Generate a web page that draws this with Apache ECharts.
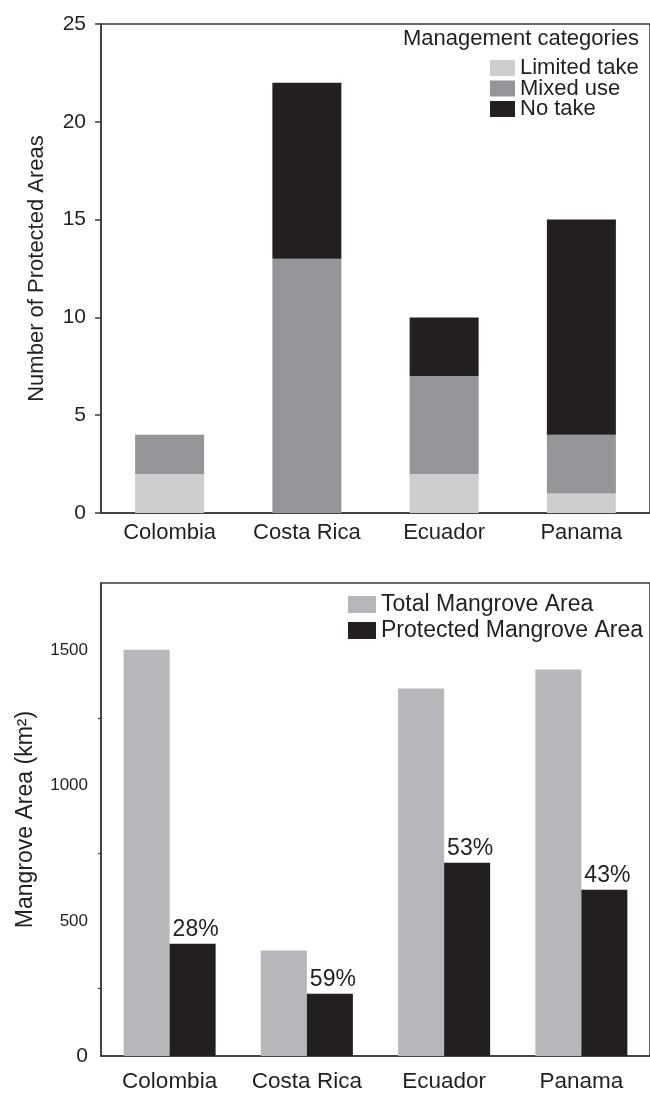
<!DOCTYPE html>
<html>
<head>
<meta charset="utf-8">
<script src="https://cdn.jsdelivr.net/npm/echarts@6/dist/echarts.min.js"></script>
<style>
  html, body { margin: 0; padding: 0; background: #fff; }
  #chart { width: 650px; height: 1093px; }
</style>
</head>
<body>
<div id="chart"></div>
<script>
// categories shared by both panels
var countries = ['Colombia', 'Costa Rica', 'Ecuador', 'Panama'];

// top panel: number of protected areas per management category
var limitedTake = [2, 0, 2, 1];
var mixedUse = [2, 13, 5, 3];
var noTake = [0, 9, 3, 11];

// bottom panel: mangrove area (km2)
var totalArea = [1503, 390, 1360, 1430];
var protectedArea = [415, 230, 715, 615];
var protectedPct = ['28%', '59%', '53%', '43%'];

var topTicks = [0, 5, 10, 15, 20, 25];
var areaMajor = [0, 500, 1000, 1500];
var areaMinor = [250, 750, 1250];

var FONT = "'Liberation Sans', Arial, sans-serif";
var INK = '#231f20';
var AXIS = '#3a3a3a';

var chart = echarts.init(document.getElementById('chart'));

var option = {
  animation: false,
  textStyle: { fontFamily: FONT, color: INK },
  title: {
    text: 'Management categories',
    right: 6,
    top: 23,
    textStyle: { fontFamily: FONT, fontSize: 22, fontWeight: 'normal', color: INK }
  },
  legend: [
    {
      data: ['Limited take', 'Mixed use', 'No take'],
      orient: 'vertical',
      left: 490,
      top: 57,
      padding: 0,
      itemWidth: 25,
      itemHeight: 16,
      itemGap: -1.5,
      icon: 'rect',
      textStyle: { fontFamily: FONT, fontSize: 22, lineHeight: 20, color: INK }
    },
    {
      data: ['Total Mangrove Area', 'Protected Mangrove Area'],
      orient: 'vertical',
      left: 348,
      top: 593,
      padding: 0,
      itemWidth: 28,
      itemHeight: 17,
      itemGap: 3,
      icon: 'rect',
      textStyle: { fontFamily: FONT, fontSize: 23, lineHeight: 22, color: INK }
    }
  ],
  grid: [
    { left: 101, top: 24, width: 552, height: 489, show: true, borderColor: AXIS, borderWidth: 1.5 },
    { left: 101, top: 583, width: 552, height: 473, show: true, borderColor: AXIS, borderWidth: 1.5 }
  ],
  xAxis: [
    {
      type: 'category', gridIndex: 0, data: countries,
      axisLine: { lineStyle: { color: AXIS, width: 1.5 } },
      axisTick: { show: false },
      axisLabel: { interval: 0, fontFamily: FONT, fontSize: 22, color: INK, margin: 9 }
    },
    {
      type: 'category', gridIndex: 1, data: countries,
      axisLine: { lineStyle: { color: AXIS, width: 1.5 } },
      axisTick: { show: false },
      axisLabel: { interval: 0, fontFamily: FONT, fontSize: 22.5, color: INK, margin: 14 }
    }
  ],
  yAxis: [
    {
      type: 'value', gridIndex: 0, min: 0, max: 25, interval: 5,
      name: 'Number of Protected Areas',
      nameLocation: 'middle', nameGap: 53,
      nameTextStyle: { fontFamily: FONT, fontSize: 22, color: INK },
      axisLine: { show: true, lineStyle: { color: AXIS, width: 1.5 } },
      axisTick: { show: true, length: 6, customValues: topTicks, lineStyle: { color: AXIS, width: 1.5 } },
      axisLabel: { fontFamily: FONT, fontSize: 21, color: INK, margin: 15, customValues: topTicks },
      splitLine: { show: false }
    },
    {
      type: 'value', gridIndex: 1, min: 0, max: 1750, interval: 250,
      name: 'Mangrove Area (km²)',
      nameLocation: 'middle', nameGap: 64,
      nameTextStyle: { fontFamily: FONT, fontSize: 23, color: INK },
      axisLine: { show: true, lineStyle: { color: AXIS, width: 1.5 } },
      axisTick: { show: true, length: 3, customValues: areaMinor, lineStyle: { color: AXIS, width: 1.2 } },
      axisLabel: {
        customValues: areaMajor,
        margin: 13,
        formatter: function (v) { return v === 0 ? '{z|0}' : '{n|' + v + '}'; },
        rich: {
          z: { fontFamily: FONT, fontSize: 21, color: INK },
          n: { fontFamily: FONT, fontSize: 17, color: INK }
        }
      },
      splitLine: { show: false }
    },
    {
      type: 'value', gridIndex: 1, min: 0, max: 1750, interval: 250,
      axisLine: { show: false },
      axisTick: { show: true, length: 7, customValues: areaMajor, lineStyle: { color: AXIS, width: 1.5 } },
      axisLabel: { show: false },
      splitLine: { show: false }
    }
  ],
  series: [
    {
      name: 'Limited take', type: 'bar', stack: 'pa', xAxisIndex: 0, yAxisIndex: 0,
      barWidth: 69, data: limitedTake, itemStyle: { color: '#cdced0' }
    },
    {
      name: 'Mixed use', type: 'bar', stack: 'pa', xAxisIndex: 0, yAxisIndex: 0,
      barWidth: 69, data: mixedUse, itemStyle: { color: '#939598' }
    },
    {
      name: 'No take', type: 'bar', stack: 'pa', xAxisIndex: 0, yAxisIndex: 0,
      barWidth: 69, data: noTake, itemStyle: { color: INK }
    },
    {
      name: 'Total Mangrove Area', type: 'bar', xAxisIndex: 1, yAxisIndex: 1,
      barWidth: 46, barGap: '0%', data: totalArea, itemStyle: { color: '#b6b7ba' }
    },
    {
      name: 'Protected Mangrove Area', type: 'bar', xAxisIndex: 1, yAxisIndex: 1,
      barWidth: 46, barGap: '0%', data: protectedArea, itemStyle: { color: INK },
      label: {
        show: true, position: 'top', distance: 3, offset: [3, 0],
        fontFamily: FONT, fontSize: 23, color: INK,
        formatter: function (p) { return protectedPct[p.dataIndex]; }
      }
    }
  ]
};

chart.setOption(option);
</script>
</body>
</html>
